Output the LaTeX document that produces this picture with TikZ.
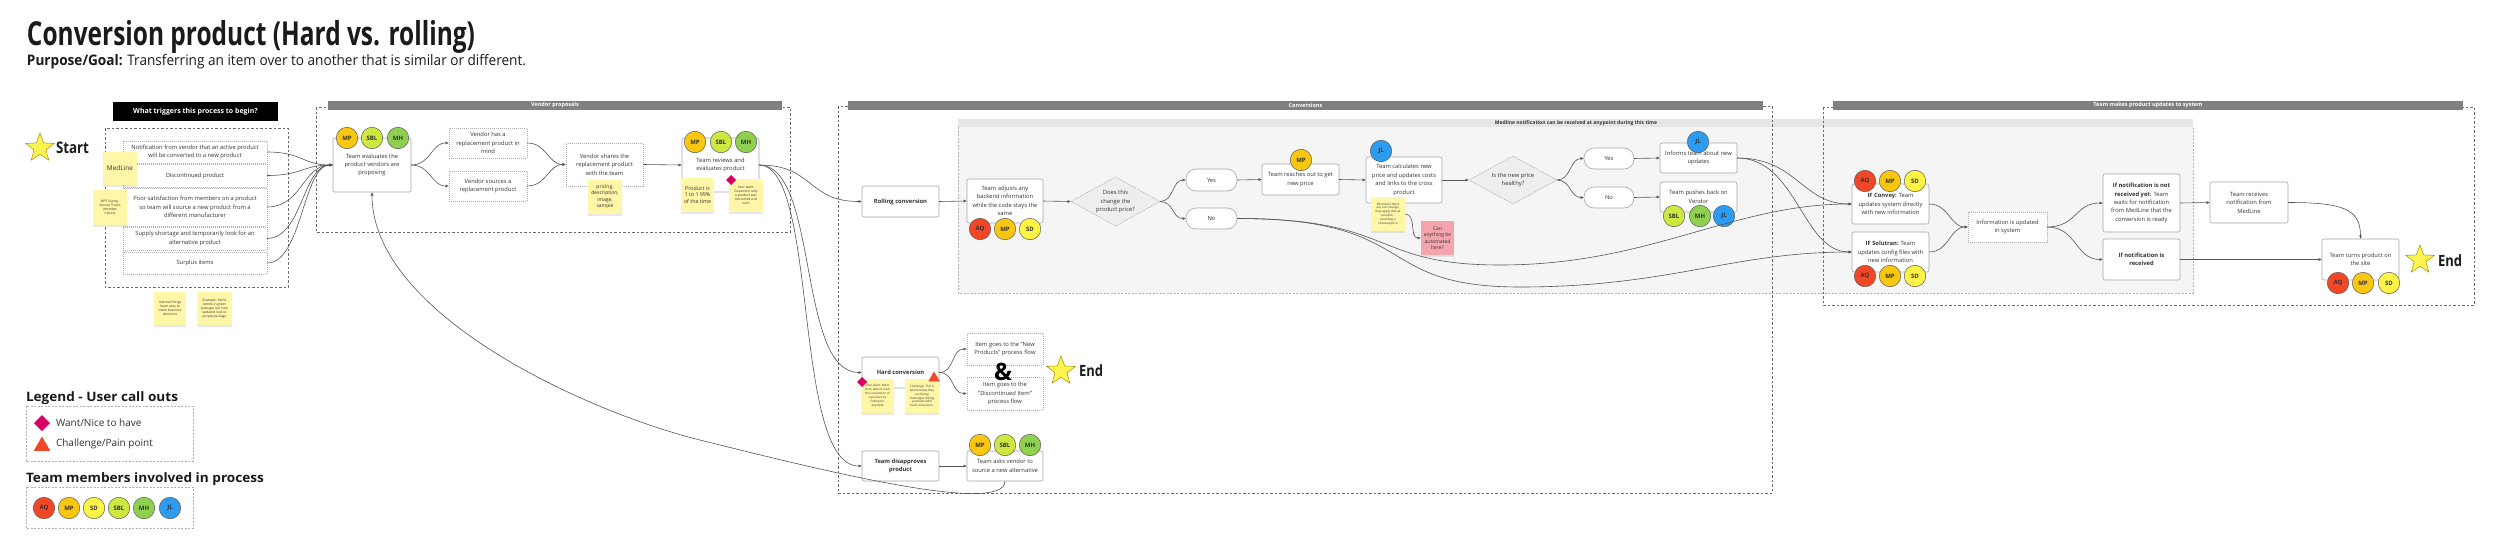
\documentclass[tikz,border=0pt]{standalone}
\usepackage{fontspec}
\setmainfont{Open Sans}
\usetikzlibrary{arrows.meta,shapes.geometric,shadows}
\definecolor{txt}{HTML}{333333}
\definecolor{ink}{HTML}{1A1A1A}
\definecolor{boxc}{HTML}{A6A6A6}
\definecolor{dotc}{HTML}{B0B0B0}
\definecolor{linec}{HTML}{555555}
\definecolor{frc}{HTML}{6A6A6A}
\definecolor{hdrc}{HTML}{808080}
\definecolor{stk}{HTML}{FFF6A8}
\definecolor{stkr}{HTML}{F4A4AC}
\definecolor{diaf}{HTML}{EEEEEE}
\definecolor{mlf}{HTML}{F5F5F5}
\definecolor{mlh}{HTML}{E6E6E6}
\definecolor{avd}{HTML}{5A5A5A}
\definecolor{cAQ}{HTML}{F24726}
\definecolor{cMP}{HTML}{FAC710}
\definecolor{cSD}{HTML}{FEF445}
\definecolor{cSBL}{HTML}{CEE741}
\definecolor{cMH}{HTML}{8FD14F}
\definecolor{cJL}{HTML}{2D9BF0}
\definecolor{pinkd}{HTML}{DA0063}
\definecolor{stary}{HTML}{FFF450}
\definecolor{stard}{HTML}{A09000}
\newcommand\fitw[2]{\resizebox{#1}{\height}{#2}}
\newcommand\mkav[5]{\node[avatar=#5] (#1) at (#2,#3) {#4};}
\tikzset{
  every node/.style={inner sep=0pt, outer sep=0pt},
  body/.style={font=\fontsize{5.8}{8.4}\selectfont, text=txt, align=center},
  box/.style 2 args={rectangle, rounded corners=2pt, draw=boxc, line width=0.6pt, fill=white, minimum width=#1, minimum height=#2, body},
  dbox/.style 2 args={rectangle, draw=dotc, line width=0.6pt, dash pattern=on 1pt off 1pt, fill=white, minimum width=#1, minimum height=#2, body},
  pill/.style 2 args={rectangle, rounded corners=10pt, draw=boxc, line width=0.6pt, fill=white, minimum width=#1, minimum height=#2, body},
  dia/.style 2 args={diamond, aspect=1.8, draw=dotc, line width=0.6pt, dash pattern=on 1.5pt off 1pt, fill=diaf, minimum width=#1, minimum height=#2, body},
  sticky/.style 2 args={rectangle, fill=stk, minimum width=#1, minimum height=#2, align=center, text=txt, font=\fontsize{3.3}{4.1}\selectfont, drop shadow={shadow xshift=0pt, shadow yshift=-1.5pt, opacity=0.18}},
  avatar/.style={circle, draw=avd, line width=0.5pt, fill=#1, minimum size=21.5, text=txt, font=\bfseries\fontsize{6}{7}\selectfont},
  conn/.style={draw=linec, line width=0.6pt, -{Latex[length=3.5pt,width=3pt]}},
  dframe/.style={draw=frc, line width=0.7pt, dash pattern=on 2.5pt off 2pt},
  lframe/.style={draw=dotc, line width=0.6pt, dash pattern=on 2pt off 1.5pt},
  hdr/.style 2 args={rectangle, fill=hdrc, text=white, font=\bfseries\fontsize{5.5}{6}\selectfont, minimum width=#1, minimum height=#2},
  starnode/.style={star, star points=5, star point ratio=2.4, fill=stary, draw=stard, line width=0.5pt, minimum size=#1},
  want/.style={diamond, fill=pinkd, minimum width=#1, minimum height=#1},
  pain/.style={regular polygon, regular polygon sides=3, fill=cAQ, minimum size=#1},
}
\begin{document}
\begin{tikzpicture}[x=1pt,y=-1pt]
\useasboundingbox (0,0) rectangle (2500,557);
\fill[white] (0,0) rectangle (2500,557);

% ---------- title ----------
\node[anchor=base west, text=ink] (title) at (27,45) {\fitw{448pt}{\fontsize{33}{36}\selectfont\bfseries Conversion product (Hard vs. rolling)}};
\node[anchor=base west, text=ink] (purpose) at (27,65) {\fitw{499pt}{\fontsize{14.5}{16}\selectfont\textbf{Purpose/Goal:} Transferring an item over to another that is similar or different.}};

% ---------- background frames ----------
\fill[mlf] (958,119) rectangle (2193,293);
\fill[mlh] (958,119) rectangle (2193,127);
\draw[lframe] (958,127) -- (958,293) -- (2193,293) -- (2193,127);
\node[font=\bfseries\fontsize{5}{6}\selectfont, text=txt] (mlt) at (1576,123) {Medline notification can be received at anypoint during this time};

\draw[dframe] (105,128) rectangle (288,287);
\draw[dframe] (316,107) rectangle (790,232);
\draw[dframe] (838,106) rectangle (1772,493);
\draw[dframe] (1823,107) rectangle (2474,305);
\node[hdr={454}{9}] (hV) at (555,105.5) {Vendor proposals};
\node[hdr={915}{9}] (hC) at (1305.5,105.5) {Conversions};
\node[hdr={630}{9}] (hT) at (2148,105.5) {Team makes product updates to system};

% ---------- start & triggers ----------
\node[starnode=30] (sstar) at (40,148) {};
\node[anchor=west, text=ink] (stxt) at (56,148) {\fitw{33pt}{\fontsize{16}{18}\selectfont\bfseries Start}};
\node[fill=black, text=white, font=\bfseries\fontsize{7}{8}\selectfont, minimum width=165, minimum height=19] (trigh) at (195.5,111.5) {What triggers this process to begin?};
\node[dbox={144}{22}] (t1) at (195,152) {Notification from vendor that an active product\\will be converted to a new product};
\node[dbox={144}{23}] (t2) at (195,175.5) {Discontinued product};
\node[dbox={144}{38}] (t3) at (195,207) {Poor satisfaction from members on a product\\so team will source a new product from a\\different manufacturer};
\node[dbox={144}{23}] (t4) at (195,238.5) {Supply shortage and temporarily look for an\\alternative product};
\node[dbox={144}{22}] (t5) at (195,263) {Surplus items};
\node[sticky={34}{33}, font=\fontsize{6.5}{8}\selectfont] (smed) at (120,168.5) {MedLine};
\node[sticky={34}{35}] (snps) at (110,207.5) {NPS Survey,\\Service Tracks\\(member\\inputs)};
\node[sticky={32}{33}] (sint) at (170,308.5) {Internal things\\team uses to\\make business\\decisions};
\node[sticky={35}{33}] (sex) at (214.5,308.5) {Example: Items\\comes in green\\package, but now\\updated look to\\purple package};

% ---------- vendor proposals ----------
\node[box={78}{54}] (eval) at (372,165) {Team evaluates the\\product vendors are\\proposing};
\mkav{evMP}{347}{138}{MP}{cMP}
\mkav{evSBL}{372}{138}{SBL}{cSBL}
\mkav{evMH}{398}{138}{MH}{cMH}
\node[dbox={78}{30}] (vhas) at (488,143) {Vendor has a\\replacement product in\\mind};
\node[dbox={78}{30}] (vsrc) at (488,186) {Vendor sources a\\replacement product};
\node[dbox={77}{43}] (vshare) at (604.5,164.5) {Vendor shares the\\replacement product\\with the team};
\node[sticky={34}{34}, font=\fontsize{5}{6.5}\selectfont] (spric) at (605,197) {pricing,\\description,\\image,\\sample};
\node[box={77}{54}] (review) at (720.5,165) {Team reviews and\\evaluates product};
\node[sticky={33}{34}, font=\fontsize{5.3}{6.8}\selectfont] (sprod) at (697.5,195) {Product is\\1 to 1 99\%\\of the time};
\node[sticky={34}{33}] (suw1) at (746,195.5) {User want:\\Document why\\a product was\\converted and\\such};
\node[want=10] (w1) at (731,180) {};
\mkav{rvMP}{695}{142}{MP}{cMP}
\mkav{rvSBL}{721}{142}{SBL}{cSBL}
\mkav{rvMH}{746}{142}{MH}{cMH}

% ---------- conversions ----------
\node[box={77}{31}, font=\bfseries\fontsize{5.8}{8}\selectfont] (rolling) at (900.5,201.5) {Rolling conversion};
\node[box={76}{44}] (adjust) at (1005,201) {Team adjusts any\\backend information\\while the code stays the\\same};
\mkav{adAQ}{980}{229}{AQ}{cAQ}
\mkav{adMP}{1005}{229}{MP}{cMP}
\mkav{adSD}{1030}{229}{SD}{cSD}
\node[dia={89}{49}] (d1) at (1115.5,201.5) {Does this\\change the\\product price?};
\node[pill={51}{22}] (yes1) at (1211.5,180) {Yes};
\node[pill={51}{21}] (no1) at (1211.5,218.5) {No};
\node[box={77}{31}] (reach) at (1300.5,179.5) {Team reaches out to get\\new price};
\mkav{reMP}{1301}{160}{MP}{cMP}
\node[box={76}{46}] (calc) at (1404,180) {Team calculates new\\price and updates costs\\and links to the cross\\product};
\mkav{caJL}{1381}{151}{JL}{cJL}
\node[sticky={34}{34}, font=\fontsize{3}{3.9}\selectfont] (scost) at (1388,214) {Whenever there\\are cost savings,\\they apply that as\\possible -\\providing a\\reduced price};
\node[sticky={33}{34}, fill=stkr, font=\fontsize{5}{6.5}\selectfont] (sauto) at (1437.5,238) {Can\\anything be\\automated\\here?};
\node[dia={88}{48}] (d2) at (1513,180) {Is the new price\\healthy?};
\node[pill={50}{21}] (yes2) at (1609,158.5) {Yes};
\node[pill={50}{21}] (no2) at (1609,197.5) {No};
\node[box={77}{30}] (inform) at (1698.5,158) {Informs team about new\\updates};
\mkav{inJL}{1698}{142}{JL}{cJL}
\node[box={77}{30}] (push) at (1698.5,197) {Team pushes back on\\Vendor};
\mkav{puSBL}{1674}{216}{SBL}{cSBL}
\mkav{puMH}{1700}{216}{MH}{cMH}
\mkav{puJL}{1724}{216}{JL}{cJL}

% hard conversion
\node[box={77}{31}, font=\bfseries\fontsize{5.8}{8}\selectfont] (hard) at (900.5,372.5) {Hard conversion};
\node[sticky={33}{34}, font=\fontsize{3}{3.9}\selectfont] (suw2) at (877.5,396) {User want: Want\\to be able to track\\the conversion of\\a product by\\linking for\\example};
\node[sticky={34}{34}, font=\fontsize{3}{3.9}\selectfont] (sch) at (922,396) {Challenge: This is\\where today they\\are facing\\challenges linking\\products with\\hard conversion.};
\node[want=10] (w2) at (862,382) {};
\node[pain=13] (p2) at (934,378) {};
\node[dbox={76}{32}] (newp) at (1005,349) {Item goes to the "New\\Products" process flow};
\node[dbox={76}{33}] (disc) at (1005,393.5) {Item goes to the\\"Discontinued Item"\\process flow};
\node[font=\bfseries\fontsize{24}{26}\selectfont, text=black] (amp) at (1003,372) {\&};
\node[starnode=30] (estar1) at (1061,371) {};
\node[anchor=west, text=ink] (end1) at (1079,371) {\fitw{24pt}{\fontsize{15.5}{17}\selectfont\bfseries End}};
\node[box={77}{30}, font=\bfseries\fontsize{5.8}{8}\selectfont] (disap) at (900.5,466) {Team disapproves\\product};
\node[box={76}{30}] (asks) at (1005,466) {Team asks vendor to\\source a new alternative};
\mkav{asMP}{980}{445}{MP}{cMP}
\mkav{asSBL}{1005}{445}{SBL}{cSBL}
\mkav{asMH}{1030}{445}{MH}{cMH}

% ---------- system updates ----------
\node[box={77}{40}] (convey) at (1890.5,204) {\textbf{IF Convey:} Team\\updates system directly\\with new information};
\mkav{cvAQ}{1865}{181}{AQ}{cAQ}
\mkav{cvMP}{1890}{181}{MP}{cMP}
\mkav{cvSD}{1915}{181}{SD}{cSD}
\node[box={77}{40}] (solu) at (1890.5,252) {\textbf{IF Solutran:} Team\\updates config files with\\new information};
\mkav{soAQ}{1865}{276}{AQ}{cAQ}
\mkav{soMP}{1890}{276}{MP}{cMP}
\mkav{soSD}{1915}{276}{SD}{cSD}
\node[dbox={79}{30}] (info) at (2007.5,227) {Information is updated\\in system};
\node[box={77}{58}] (notyet) at (2141.5,203) {\textbf{If notification is not}\\\textbf{received yet:} Team\\waits for notification\\from MedLine that the\\conversion is ready};
\node[box={77}{41}] (recv) at (2141.5,259.5) {\textbf{If notification is}\\\textbf{received}};
\node[box={78}{41}] (trecv) at (2249,202.5) {Team receives\\notification from\\MedLine};
\node[box={77}{41}] (turns) at (2360.5,259.5) {Team turns product on\\the site};
\mkav{tuAQ}{2338}{283}{AQ}{cAQ}
\mkav{tuMP}{2363}{283}{MP}{cMP}
\mkav{tuSD}{2389}{283}{SD}{cSD}
\node[starnode=30] (estar2) at (2420,260) {};
\node[anchor=west, text=ink] (end2) at (2438,261) {\fitw{24pt}{\fontsize{15.5}{17}\selectfont\bfseries End}};

% ---------- connectors ----------
\foreach \t in {t1,t2,t3,t4,t5}
  \draw[conn] (\t.east) .. controls +(35,0) and +(-30,0) .. (eval.west);
\draw[conn] (eval.east) .. controls +(20,0) and +(-18,0) .. (vhas.west);
\draw[conn] (eval.east) .. controls +(20,0) and +(-18,0) .. (vsrc.west);
\draw[conn] (vhas.east) .. controls +(20,0) and +(-18,0) .. (vshare.west);
\draw[conn] (vsrc.east) .. controls +(20,0) and +(-18,0) .. (vshare.west);
\draw[conn] (vshare.east) -- (review.west);
\draw[conn] (review.east) .. controls +(55,0) and +(-55,0) .. (rolling.west);
\draw[conn] (review.east) .. controls +(60,0) and +(-65,0) .. (hard.west);
\draw[conn] (review.east) .. controls +(60,0) and +(-70,0) .. (disap.west);
\coordinate (loopm) at (700,440);
\draw[conn] (asks.south) .. controls +(0,35) and +(120,30) .. (loopm) .. controls +(-120,-30) and +(0,120) .. (eval.south);
\draw[conn] (rolling.east) -- (adjust.west);
\draw[conn] (adjust.east) -- (d1.west);
\draw[conn] (d1.east) .. controls +(14,0) and +(-14,0) .. (yes1.west);
\draw[conn] (d1.east) .. controls +(14,0) and +(-14,0) .. (no1.west);
\draw[conn] (yes1.east) -- (reach.west);
\draw[conn] (reach.east) -- (calc.west);
\draw[conn] (calc.east) -- (d2.west);
\draw[conn] (d2.east) .. controls +(14,0) and +(-14,0) .. (yes2.west);
\draw[conn] (d2.east) .. controls +(14,0) and +(-14,0) .. (no2.west);
\draw[conn] (yes2.east) -- (inform.west);
\draw[conn] (no2.east) -- (push.west);
\draw[conn] (scost.east) .. controls +(12,0) and +(-12,0) .. (sauto.west);
\coordinate (dipA) at (1500,265);
\coordinate (dipB) at (1520,287);
\draw[conn] (no1.east) .. controls +(160,0) and +(-130,0) .. (dipA) .. controls +(150,0) and +(-120,0) .. (convey.west);
\draw[conn] (no1.east) .. controls +(185,0) and +(-150,0) .. (dipB) .. controls +(150,0) and +(-120,0) .. (solu.west);
\draw[conn] (inform.east) .. controls +(60,0) and +(-50,0) .. (convey.west);
\draw[conn] (inform.east) .. controls +(60,0) and +(-50,0) .. (solu.west);
\draw[conn] (convey.east) .. controls +(20,0) and +(-18,0) .. (info.west);
\draw[conn] (solu.east) .. controls +(20,0) and +(-18,0) .. (info.west);
\draw[conn] (info.east) .. controls +(30,0) and +(-28,0) .. (notyet.west);
\draw[conn] (info.east) .. controls +(30,0) and +(-28,0) .. (recv.west);
\draw[conn] (notyet.east) -- (trecv.west);
\draw[conn] (trecv.east) .. controls +(55,0) and +(0,-30) .. (turns.north);
\draw[conn] (recv.east) -- (turns.west);
\draw[conn] (hard.east) .. controls +(16,0) and +(-16,0) .. (newp.west);
\draw[conn] (hard.east) .. controls +(16,0) and +(-16,0) .. (disc.west);
\draw[conn] (disap.east) -- (asks.west);

% ---------- legend ----------
\node[anchor=base west, text=ink] (lgh) at (26,401) {\fitw{152pt}{\fontsize{13}{15}\selectfont\bfseries Legend - User call outs}};
\draw[lframe] (26,406) rectangle (193,461);
\node[want=16] (lgw) at (42,423) {};
\node[anchor=west, font=\fontsize{10}{12}\selectfont, text=txt] (lgwt) at (56,423) {Want/Nice to have};
\node[pain=19] (lgp) at (42,446) {};
\node[anchor=west, font=\fontsize{10}{12}\selectfont, text=txt] (lgpt) at (56,444) {Challenge/Pain point};
\node[anchor=base west, text=ink] (tmh) at (26,482) {\fitw{238pt}{\fontsize{13}{15}\selectfont\bfseries Team members involved in process}};
\draw[lframe] (26,487) rectangle (193,528);
\mkav{lAQ}{44}{508}{AQ}{cAQ}
\mkav{lMP}{69}{508}{MP}{cMP}
\mkav{lSD}{94}{508}{SD}{cSD}
\mkav{lSBL}{119}{508}{SBL}{cSBL}
\mkav{lMH}{144}{508}{MH}{cMH}
\mkav{lJL}{170}{508}{JL}{cJL}
\end{tikzpicture}
\end{document}
